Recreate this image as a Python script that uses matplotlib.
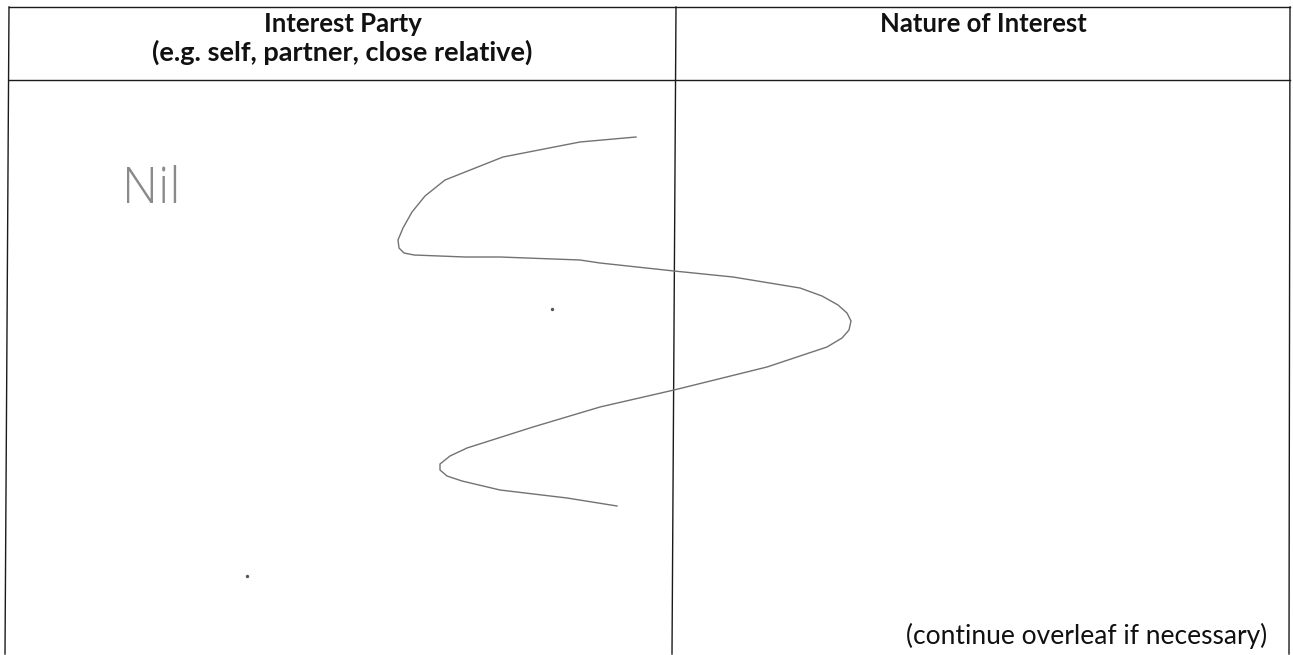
import matplotlib
matplotlib.use("Agg")
import matplotlib.pyplot as plt

# table layout (pixel coords, y down); the scan is a bit skewed
col_top = [9, 676, 1290]
col_bottom = [5, 672, 1289]
row_lines = [7, 80]
table_bottom = 654

header_left = ["Interest Party", "(e.g. self, partner, close relative)"]
header_right = ["Nature of Interest"]
header_rows_y = [24, 52]
note = "(continue overleaf if necessary)"
entry = "Nil"

# the struck-through squiggle
squiggle_x = [636, 580, 503, 445, 425, 412, 403, 398, 399, 404, 414, 465, 500,
              580, 600, 674, 733, 800, 822, 838, 847, 851, 849, 842, 827, 767,
              674, 600, 533, 467, 450, 440, 440, 447, 462, 500, 567, 617]
squiggle_y = [137, 142, 157, 180, 196, 212, 228, 240, 248, 253, 255, 257, 257,
              260, 263, 271, 277, 288, 296, 305, 313, 321, 330, 338, 347, 367,
              390, 407, 427, 448, 456, 464, 470, 476, 481, 490, 498, 506]
specks_x = [552, 247]
specks_y = [309, 576]

fig = plt.figure(figsize=(12.93, 6.55), dpi=100)
ax = fig.add_axes([0, 0, 1, 1])
ax.set_xlim(0, 1293)
ax.set_ylim(655, 0)
ax.axis('off')

# grid lines
for xt, xb in zip(col_top, col_bottom):
    ax.plot([xt, xb], [row_lines[0], table_bottom], color='#1a1a1a', lw=1.0)
for y in row_lines:
    ax.plot([col_top[0], col_top[-1]], [y, y], color='#1a1a1a', lw=1.0)

# header text
centers = [(col_top[0] + col_top[1]) / 2, (col_top[1] + col_top[2]) / 2]
sizes_left = [18.5, 19.5]
for i, line in enumerate(header_left):
    ax.text(centers[0], header_rows_y[i], line, ha='center', va='center',
            fontsize=sizes_left[i], fontweight='bold', family='Lato', color='#111111')
for i, line in enumerate(header_right):
    ax.text(centers[1], header_rows_y[i], line, ha='center', va='center',
            fontsize=18.5, fontweight='bold', family='Lato', color='#111111')

ax.text(1267, 636, note, ha='right', va='center', fontsize=19, family='Lato',
        color='#111111')

# handwriting
ax.text(122, 190, entry, ha='left', va='center', fontsize=36, family='Open Sans',
        fontweight='light', color='#8a8a8a')
ax.plot(squiggle_x, squiggle_y, color='#727272', lw=1.0)
ax.scatter(specks_x, specks_y, s=2, color='#555555')

plt.savefig('out.png', dpi=100)
